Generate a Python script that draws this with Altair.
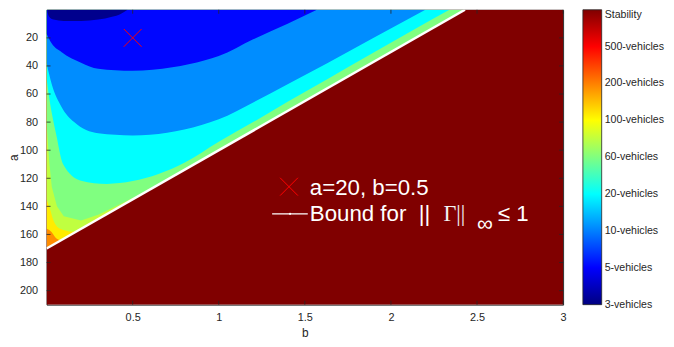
import altair as alt
import pandas as pd

# ---------------- values ----------------
LEVEL_NAMES = ["3-vehicles", "5-vehicles", "10-vehicles", "20-vehicles", "60-vehicles",
               "100-vehicles", "200-vehicles", "500-vehicles", "Stability"]
LEVEL_VALUES = [0, 1, 2, 3, 4, 5, 6, 7, 8]
JET = ["#000080", "#0000ff", "#0080ff", "#00ffff", "#80ff80",
       "#ffff00", "#ff8000", "#ff0000", "#800000"]

X_TICKS = [0.5, 1, 1.5, 2, 2.5, 3]
Y_TICKS = [20, 40, 60, 80, 100, 120, 140, 160, 180, 200]

# region boundaries (lower edge of each region, a as a function of b)
STAB_B = [0.0, 3.0]
STAB_A = [210, 210]
STAB_LEVEL = 8

ORANGE_B = [0.0, 0.04, 0.08, 0.12]
ORANGE_A = [170, 167.2, 164.4, 161.6]
ORANGE_LEVEL = 5.9

YELLOW_B = [0.0, 0.03, 0.05, 0.08, 0.1, 0.2, 0.3, 0.38]
YELLOW_A = [156, 158.5, 162, 164, 163, 156, 149, 143.4]
YELLOW_LEVEL = 5.15

YG_B = [0.0, 0.02, 0.04, 0.08, 0.15, 0.25, 0.35, 0.45, 0.6]
YG_A = [135, 142, 150, 156, 158, 151.5, 144.5, 138.5, 128]
YG_LEVEL = 4.5

GREEN_B = [0.0, 0.015, 0.03, 0.06, 0.1, 0.2, 0.3, 0.45, 0.6, 1.0, 1.5, 2.0, 2.43]
GREEN_A = [80, 108, 126, 140, 147, 150, 146, 137, 128, 100, 65, 30, 0]
GREEN_LEVEL = 4.0

CYAN_B = [0.0, 0.017, 0.057, 0.096, 0.2, 0.35, 0.5, 0.65, 0.8, 1.0, 1.2, 1.4, 1.63, 1.9, 2.15, 2.34]
CYAN_A = [49, 64, 89.5, 110, 121.7, 124, 122, 117, 109, 94, 80, 65.5, 49.5, 30.5, 13, 0]
CYAN_LEVEL = 3.0

AZURE_B = [0.0, 0.03, 0.086, 0.16, 0.3, 0.5, 0.7, 0.9, 1.0, 1.2, 1.4, 1.63, 1.9, 2.2]
AZURE_A = [38, 53, 69, 80, 88, 89.5, 87.5, 82, 78, 66, 53, 38, 20, 0]
AZURE_LEVEL = 2.1

BLUE_B = [0.0, 0.03, 0.086, 0.2, 0.3, 0.5, 0.73, 0.92, 1.0, 1.2, 1.4, 1.57]
BLUE_A = [17, 24, 30, 37.7, 42, 43.5, 41, 36, 33, 21, 10, 0]
BLUE_LEVEL = 1.05

NAVY_B = [0.005, 0.015, 0.04, 0.1, 0.2, 0.3, 0.38, 0.43, 0.47]
NAVY_A = [1.5, 5, 7, 8, 8, 7, 5, 3, 0]
NAVY_LEVEL = 0.1

BOUND_B = [0.0, 2.43]
BOUND_A = [170, 0]

MARK_B = [0.5]
MARK_A = [20]

# ---------------- layout / style ----------------
W, H = 522, 298
FG = "#262626"
FONT = "Liberation Sans"

xscale = alt.Scale(domain=[0, 3], nice=False, zero=False)
yscale = alt.Scale(domain=[0, 210], reverse=True, nice=False, zero=False)
xaxis = alt.Axis(values=X_TICKS, format="~g", labelFlush=False, ticks=False, domain=False,
                 grid=False, labelPadding=7, titlePadding=5, labelFontSize=11,
                 titleFontSize=12, titleFontWeight="normal")
yaxis = alt.Axis(values=Y_TICKS, ticks=False, domain=False, grid=False, labelPadding=9,
                 titleX=-26, labelFontSize=11, titleFontSize=12, titleFontWeight="normal")


def X(field):
    return alt.X(f"{field}:Q", scale=xscale, axis=xaxis, title="b")


def Y(field):
    return alt.Y(f"{field}:Q", scale=yscale, axis=yaxis, title="a", stack=False)


def XD(v):
    return alt.XDatum(v, type="quantitative", scale=xscale, axis=xaxis, title="b")


def YD(v):
    return alt.YDatum(v, type="quantitative", scale=yscale, axis=yaxis, title="a")


# legend label positions: lowest label nudged inside so that it stays centred on the bar end
legend_values = [LEVEL_VALUES[0] + 0.001] + LEVEL_VALUES[1:]
label_expr = "[" + ",".join(f"'{n}'" for n in LEVEL_NAMES) + "][round(datum.value)]"
color = alt.Color(
    "level:Q",
    scale=alt.Scale(domain=LEVEL_VALUES, range=JET, interpolate="rgb"),
    legend=alt.Legend(
        title=None, orient="right", offset=20, values=legend_values, labelExpr=label_expr,
        gradientLength=H, gradientThickness=19, gradientStrokeColor=FG,
        gradientStrokeWidth=0.8, labelFontSize=10.7, labelFont=FONT, labelColor=FG,
        labelOffset=3, labelOverlap=False, padding=0,
    ),
)


def band(bs, as_, level, interp="monotone"):
    df = pd.DataFrame({"b": bs, "a": as_})
    df["a_top"] = 0.0
    df["level"] = level
    return alt.Chart(df).mark_area(interpolate=interp, clip=True).encode(
        x=X("b"), y=Y("a_top"), y2=alt.Y2("a:Q"), color=color
    )


layers = [
    band(STAB_B, STAB_A, STAB_LEVEL, "linear"),
    band(ORANGE_B, ORANGE_A, ORANGE_LEVEL, "linear"),
    band(YELLOW_B, YELLOW_A, YELLOW_LEVEL),
    band(YG_B, YG_A, YG_LEVEL),
    band(GREEN_B, GREEN_A, GREEN_LEVEL, "linear"),
    band(CYAN_B, CYAN_A, CYAN_LEVEL),
    band(AZURE_B, AZURE_A, AZURE_LEVEL),
    band(BLUE_B, BLUE_A, BLUE_LEVEL),
    band(NAVY_B, NAVY_A, NAVY_LEVEL),
]

bound = alt.Chart(pd.DataFrame({"b": BOUND_B, "a": BOUND_A})).mark_line(
    color="white", strokeWidth=2.5, clip=True
).encode(x=X("b"), y=Y("a"))

XSHAPE = "M-1,-1L1,1M1,-1L-1,1"
marker = alt.Chart(pd.DataFrame({"b": MARK_B, "a": MARK_A})).mark_point(
    shape=XSHAPE, size=324, color="#ff0000", strokeWidth=1, filled=False, opacity=1
).encode(x=X("b"), y=Y("a"))

# inward ticks on all four sides
yt = pd.DataFrame({"a": Y_TICKS})
xt = pd.DataFrame({"b": X_TICKS})
tick_style = dict(color=FG, strokeWidth=0.8)
ticks = [
    alt.Chart(yt).mark_rule(**tick_style).encode(y=Y("a"), x=alt.value(0), x2=alt.value(4)),
    alt.Chart(yt).mark_rule(**tick_style).encode(y=Y("a"), x=alt.value(W - 4), x2=alt.value(W)),
    alt.Chart(xt).mark_rule(**tick_style).encode(x=X("b"), y=alt.value(0), y2=alt.value(4)),
    alt.Chart(xt).mark_rule(**tick_style).encode(x=X("b"), y=alt.value(H - 4), y2=alt.value(H)),
]

# in-plot legend box
base = alt.Chart(pd.DataFrame({"k": [0]}))
leg_marker = base.mark_point(
    shape=XSHAPE, size=324, color="#ff0000", strokeWidth=1, filled=False, opacity=1
).encode(x=XD(1.408), y=YD(126.0))
leg_line = base.mark_rule(color="white", strokeWidth=1.2).encode(
    x=XD(1.31), x2=alt.X2Datum(1.517), y=YD(145.3)
)
leg_dot = base.mark_point(color="white", filled=True, size=5, opacity=1).encode(
    x=XD(1.414), y=YD(145.3)
)
FS = 22.5
txt = dict(align="left", baseline="alphabetic", color="white", fontSize=FS, font=FONT)
t1 = base.mark_text(text="a=20, b=0.5", **txt).encode(x=XD(1.529), y=YD(132.0))
t2 = base.mark_text(text="Bound for", **txt).encode(x=XD(1.529), y=YD(150.3))
t3 = base.mark_text(text="||", **txt).encode(x=XD(2.161), y=YD(150.3))
t4 = base.mark_text(text="Γ||", align="left", baseline="alphabetic", color="#f2f2f2",
                    fontSize=FS, font="Liberation Serif").encode(x=XD(2.305), y=YD(150.3))
t5 = base.mark_text(text="∞", **txt).encode(x=XD(2.50), y=YD(157.7))
t6 = base.mark_text(text="≤ 1", **txt).encode(x=XD(2.621), y=YD(150.3))

chart = alt.layer(
    *layers, bound, marker, *ticks, leg_marker, leg_line, leg_dot, t1, t2, t3, t4, t5, t6
).properties(
    width=W, height=H,
    padding={"left": 39, "top": 0, "right": 104, "bottom": 40},
    autosize=alt.AutoSizeParams(type="none"),
).configure_view(
    stroke=FG, strokeWidth=1
).configure_axis(
    labelFont=FONT, titleFont=FONT, labelColor=FG, titleColor=FG
)

chart.save("out.html", embed_options={"renderer": "svg", "actions": False})
